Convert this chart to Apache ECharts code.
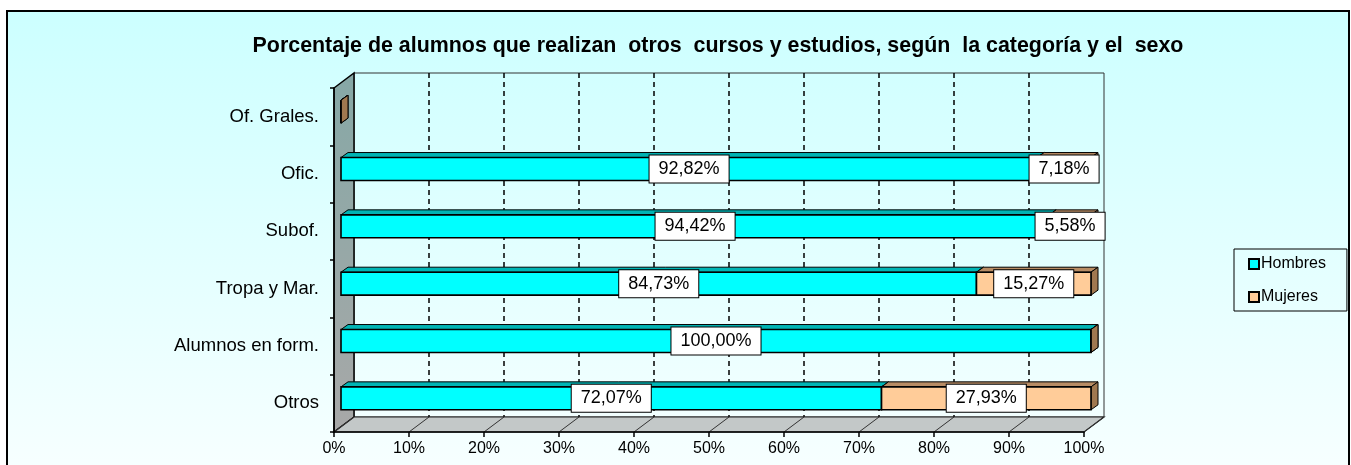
<!DOCTYPE html>
<html>
<head>
<meta charset="utf-8">
<script src="https://cdn.jsdelivr.net/npm/echarts@6/dist/echarts.min.js"></script>
<style>
  html, body { margin: 0; padding: 0; background: #fff; }
  #chart { width: 1351px; height: 465px; }
</style>
</head>
<body>
<div id="chart"></div>
<script>
// Categories, bottom to top
const CATEGORIES = ['Otros', 'Alumnos en form.', 'Tropa y Mar.', 'Subof.', 'Ofic.', 'Of. Grales.'];
// Percentages per category
const HOMBRES = [72.07, 100.00, 84.73, 94.42, 92.82, 0];
const MUJERES = [27.93, 0, 15.27, 5.58, 7.18, 0];
const SERIES_NAMES = ['Hombres', 'Mujeres'];
const TITLE = 'Porcentaje de alumnos que realizan  otros  cursos y estudios, según  la categoría y el  sexo';
// Percentage axis
const X_MIN = 0, X_MAX = 100, X_STEP = 10;

// Pseudo-3D geometry (pixels)
const WALL_DEPTH = { x: 20, y: -15 };   // front plane -> back wall
const BAR_SHIFT = { x: 7, y: -5 };      // front plane -> bar front face
const BAR_DEPTH = { x: 7, y: -5 };      // bar thickness
const BAR_RATIO = 0.4;                  // bar height / category band
const FONT = '"Liberation Sans", Arial, sans-serif';

const FACE = {
  Hombres: { front: '#00FFFF', top: '#00B4B4', side: '#008C8C' },
  Mujeres: { front: '#FFCC99', top: '#B88C64', side: '#A07850' }
};

function fmtPct(v) {
  return v.toFixed(2).replace('.', ',') + '%';
}

const xTicks = [];
for (let v = X_MIN; v <= X_MAX; v += X_STEP) xTicks.push(v);

// Stacked segment data: [start, end, categoryIndex]
const hombresData = HOMBRES.map((v, i) => [0, v, i]);
const mujeresData = MUJERES.map((v, i) => [HOMBRES[i], HOMBRES[i] + v, i]);

function barRenderer(name) {
  const c = FACE[name];
  return function (params, api) {
    const start = api.value(0), end = api.value(1), cat = api.value(2);
    const p0 = api.coord([start, cat]);
    const p1 = api.coord([end, cat]);
    const band = api.size([0, 1])[1];
    const h = band * BAR_RATIO;
    const x0 = p0[0] + BAR_SHIFT.x, x1 = p1[0] + BAR_SHIFT.x;
    const yc = p0[1] + BAR_SHIFT.y;
    const yT = yc - h / 2, yB = yc + h / 2;
    const dx = BAR_DEPTH.x, dy = BAR_DEPTH.y;
    const children = [
      { type: 'polygon', shape: { points: [[x0, yT], [x1, yT], [x1 + dx, yT + dy], [x0 + dx, yT + dy]] },
        style: { fill: c.top, stroke: '#000', lineWidth: 1 } },
      { type: 'polygon', shape: { points: [[x1, yT], [x1 + dx, yT + dy], [x1 + dx, yB + dy], [x1, yB]] },
        style: { fill: c.side, stroke: '#000', lineWidth: 1 } },
      { type: 'rect', shape: { x: x0, y: yT, width: x1 - x0, height: h },
        style: { fill: c.front, stroke: '#000', lineWidth: 1.6 } }
    ];
    const val = end - start;
    if (val > 0) {
      children.push({
        type: 'text', z2: 100,
        x: (x0 + x1) / 2, y: yc,
        style: {
          text: fmtPct(val), fill: '#000', font: '18px ' + FONT,
          align: 'center', verticalAlign: 'middle',
          backgroundColor: '#fff', borderColor: '#000', borderWidth: 1,
          padding: [5, 9, 4, 9]
        }
      });
    }
    return { type: 'group', children: children };
  };
}

function wallRenderer(params, api) {
  const cs = params.coordSys;
  const D = WALL_DEPTH;
  const xl = cs.x, xr = cs.x + cs.width, yt = cs.y, yb = cs.y + cs.height;
  const children = [
    { type: 'polygon', shape: { points: [[xl, yt], [xl + D.x, yt + D.y], [xl + D.x, yb + D.y], [xl, yb]] },
      style: { fill: { type: 'linear', x: 0, y: 0, x2: 0, y2: 1,
        colorStops: [{ offset: 0, color: '#86A8A6' }, { offset: 1, color: '#A8A8A8' }] },
        stroke: '#000', lineWidth: 1.5 } },
    { type: 'polygon', shape: { points: [[xl, yb], [xr, yb], [xr + D.x, yb + D.y], [xl + D.x, yb + D.y]] },
      style: { fill: '#C3C8C8', stroke: '#222', lineWidth: 1.2 } }
  ];
  xTicks.forEach(v => {
    const x = api.coord([v, 0])[0];
    children.push({ type: 'line', shape: { x1: x, y1: yb, x2: x + D.x, y2: yb + D.y },
      style: { stroke: '#333', lineWidth: 1 } });
  });
  return { type: 'group', children: children };
}

const chart = echarts.init(document.getElementById('chart'), null, { renderer: 'canvas' });

chart.setOption({
  backgroundColor: '#fff',
  animation: false,
  graphic: [
    { type: 'rect', z: -100, shape: { x: 7, y: 11, width: 1342, height: 470 },
      style: { fill: { type: 'linear', x: 0, y: 0, x2: 0, y2: 1,
        colorStops: [{ offset: 0, color: '#CCFFFF' }, { offset: 1, color: '#F8FFFF' }] },
        stroke: '#000', lineWidth: 2 } },
    { type: 'text', z: 10, x: 718, y: 46,
      style: { text: TITLE, font: 'bold 21.4px ' + FONT, fill: '#000', align: 'center', verticalAlign: 'middle' } }
  ],
  legend: {
    data: SERIES_NAMES,
    orient: 'vertical',
    left: 1234, top: 249,
    padding: [7, 21, 6, 14],
    itemGap: 17,
    itemWidth: 10, itemHeight: 10,
    icon: 'rect',
    borderColor: '#000', borderWidth: 1,
    backgroundColor: 'transparent',
    itemStyle: { borderColor: '#000', borderWidth: 2 },
    textStyle: { fontFamily: FONT, fontSize: 16, color: '#000', padding: [0, 0, 0, -3] }
  },
  grid: [
    // front plane (axes)
    { left: 334, right: 267, top: 88, bottom: 33, containLabel: false },
    // back wall
    { left: 354, right: 247, top: 73, bottom: 48, containLabel: false,
      show: true, borderColor: '#333', borderWidth: 1, backgroundColor: 'transparent', z: 0 }
  ],
  xAxis: [
    { type: 'value', gridIndex: 0, min: X_MIN, max: X_MAX, interval: X_STEP, z: 3,
      axisLine: { show: true, lineStyle: { color: '#000', width: 1.5 } },
      axisTick: { show: true, length: 5, lineStyle: { color: '#000', width: 1.5 } },
      axisLabel: { formatter: '{value}%', fontFamily: FONT, fontSize: 16, color: '#000', margin: 9 },
      splitLine: { show: false } },
    { type: 'value', gridIndex: 1, min: X_MIN, max: X_MAX, interval: X_STEP,
      axisLine: { show: false }, axisTick: { show: false }, axisLabel: { show: false },
      splitLine: { show: true, showMinLine: false, showMaxLine: false,
        lineStyle: { color: '#000', width: 1.5, type: [5, 4] } } }
  ],
  yAxis: [
    { type: 'category', gridIndex: 0, data: CATEGORIES, z: 3,
      axisLine: { show: true, lineStyle: { color: '#000', width: 1.5 } },
      axisTick: { show: true, length: 4, lineStyle: { color: '#000', width: 1.5 } },
      axisLabel: { fontFamily: FONT, fontSize: 18.5, color: '#000', margin: 15 } },
    { type: 'category', gridIndex: 1, data: CATEGORIES,
      axisLine: { show: false }, axisTick: { show: false }, axisLabel: { show: false },
      splitLine: { show: false } }
  ],
  series: [
    { name: 'walls', type: 'custom', xAxisIndex: 0, yAxisIndex: 0, z: 1, silent: true,
      data: [[0, 0]], renderItem: wallRenderer },
    { name: 'Hombres', type: 'custom', xAxisIndex: 0, yAxisIndex: 0, z: 5,
      itemStyle: { color: FACE.Hombres.front, borderColor: '#000', borderWidth: 2 },
      encode: { x: [0, 1], y: 2 },
      data: hombresData, renderItem: barRenderer('Hombres') },
    { name: 'Mujeres', type: 'custom', xAxisIndex: 0, yAxisIndex: 0, z: 5,
      itemStyle: { color: FACE.Mujeres.front, borderColor: '#000', borderWidth: 2 },
      encode: { x: [0, 1], y: 2 },
      data: mujeresData, renderItem: barRenderer('Mujeres') }
  ]
});
</script>
</body>
</html>
